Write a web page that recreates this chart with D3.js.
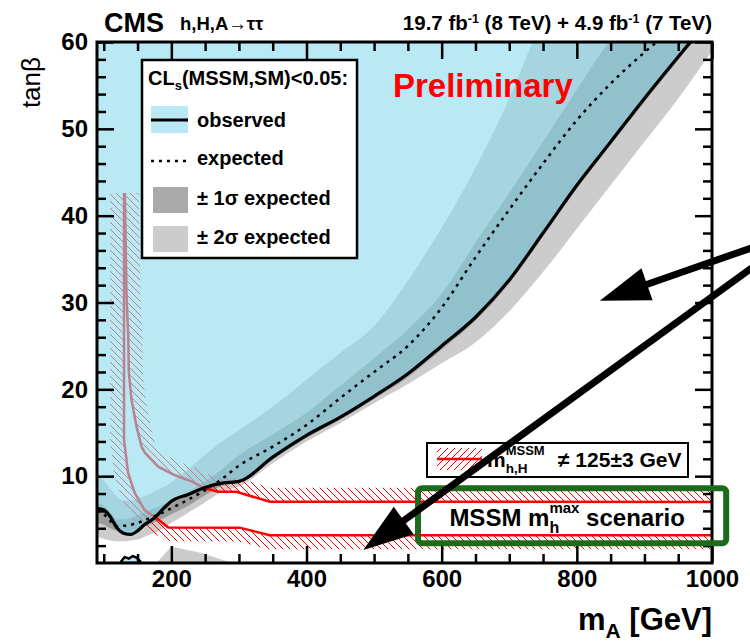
<!DOCTYPE html>
<html>
<head>
<meta charset="utf-8">
<script src="https://cdn.jsdelivr.net/npm/d3@7"></script>
<style>
  body { margin: 0; background: #fff; }
  svg { font-family: "Liberation Sans", Arial, sans-serif; font-weight: bold; }
</style>
</head>
<body>
<svg id="chart" width="750" height="641"></svg>
<script>
// m_A grid (GeV) and the tan(beta) limits
const massA   = [90, 100, 110, 120, 130, 140, 150, 160, 175, 190, 200, 225, 250, 275, 300, 350, 400, 450, 500, 550, 600, 650, 700, 750, 800, 850, 900, 950, 1000];
const obsTanb = [6.3, 6.1, 5.3, 4.0, 3.4, 3.3, 3.7, 4.4, 5.2, 6.4, 7.1, 7.9, 8.7, 9.2, 9.4, 12.2, 14.7, 16.8, 19.2, 21.8, 25.0, 28.3, 32.6, 38.0, 43.5, 48.5, 53.5, 58.3, 63.0];
const expTanb = [6.0, 5.6, 4.8, 4.2, 4.3, 4.4, 4.6, 4.9, 5.4, 5.9, 6.3, 7.3, 8.4, 9.7, 11.2, 13.4, 15.9, 19.0, 22.0, 25.0, 29.4, 35.2, 40.7, 46.0, 51.0, 55.2, 58.8, 62.0, 65.0];
const exp1Lo  = [4.6, 4.4, 4.0, 3.7, 3.6, 3.7, 3.9, 4.2, 4.7, 5.2, 5.6, 6.6, 7.8, 8.9, 9.2, 11.9, 14.4, 16.5, 18.9, 21.4, 24.6, 27.9, 32.2, 37.6, 43.1, 48.1, 53.1, 57.9, 62.6];
const exp1Hi  = [7.0, 6.6, 5.8, 5.0, 5.0, 5.2, 5.5, 5.8, 6.3, 6.8, 7.2, 8.2, 9.4, 10.8, 12.4, 14.8, 17.3, 20.4, 23.6, 26.9, 31.0, 36.9, 42.6, 48.5, 54.5, 60.3, 64.5, 68.0, 71.0];
const exp2Lo  = [3.0, 2.8, 2.6, 2.5, 2.5, 2.6, 2.7, 3.0, 3.5, 4.1, 4.6, 5.8, 7.0, 8.2, 8.8, 11.5, 14.0, 16.1, 18.4, 20.6, 23.0, 25.4, 29.0, 33.5, 38.5, 43.5, 48.5, 53.5, 59.0];
const exp2Hi  = [10.4, 9.5, 8.5, 7.6, 7.2, 7.2, 7.4, 7.7, 8.2, 8.8, 9.3, 10.8, 12.5, 14.0, 15.3, 18.0, 21.1, 24.2, 27.3, 32.5, 38.6, 45.5, 53.5, 63.0, 72.0, 80.0, 88.0, 95.0, 100.0];

// small extra pieces near the x axis (2 sigma band and observed exclusion)
const island2Mass = [178, 200, 245, 290];
const island2Tanb = [0, 1.9, 1.15, 0];
const islandObsMass = [126, 131, 137, 143, 149, 154];
const islandObsTanb = [0.2, 0.7, 0.5, 0.8, 0.6, 0.2];

// m_h contours (122 and 128 GeV)
const mh122Mass = [130, 130, 136, 145.6, 160.4, 180.7, 195.5, 301, 345.6, 1000];
const mh122Tanb = [42.6, 14.2, 10.4, 8.1, 6.1, 5.0, 4.1, 4.07, 3.2, 3.2];
const mh128Mass = [131.2, 133.7, 136.2, 137.1, 141.1, 148.5, 155.9, 160.8, 180.7, 205.3, 230, 249.7, 269.6, 296, 345.6, 1000];
const mh128Tanb = [42.6, 30.7, 26.1, 21.9, 18.8, 15.7, 13.4, 12.7, 11.1, 10.1, 9.4, 8.6, 8.2, 8.2, 7.06, 7.03];

// axis ticks
const xMajor = [200, 400, 600, 800, 1000];
const xMinor = d3.range(100, 1000, 50).filter(v => v % 200 !== 0);
const yMajor = [10, 20, 30, 40, 50, 60];
const yMinor = d3.range(2, 60, 2).filter(v => v % 10 !== 0);

// annotations (data coordinates)
const arrowTail = [[1059, 36.3], [1059, 34.0]];
const arrowTip  = [[834, 30.2], [484, 1.5]];
const scenarioBox = [[565, 8.6], [1021, 2.27]];

const svg = d3.select("#chart");
const x = d3.scaleLinear().domain([90, 1000]).range([97, 712]);
const y = d3.scaleLinear().domain([0, 60]).range([563, 42]);

const defs = svg.append("defs");
defs.append("clipPath").attr("id", "plotClip")
  .append("rect").attr("x", 97).attr("y", 42).attr("width", 615).attr("height", 521);

const hb = defs.append("pattern").attr("id", "hatchBack")
  .attr("patternUnits", "userSpaceOnUse").attr("width", 7).attr("height", 7);
hb.append("path").attr("d", "M0,0 L7,7 M-1,6 L1,8 M6,-1 L8,1")
  .attr("stroke", "#ff0000").attr("stroke-width", 1);
const hf = defs.append("pattern").attr("id", "hatchFwd")
  .attr("patternUnits", "userSpaceOnUse").attr("width", 7).attr("height", 7);
hf.append("path").attr("d", "M0,7 L7,0 M-1,1 L1,-1 M6,8 L8,6")
  .attr("stroke", "#ff0000").attr("stroke-width", 1);

const plot = svg.append("g").attr("clip-path", "url(#plotClip)");

const band = (lo, hi) => d3.area()
  .x((d, i) => x(massA[i]))
  .y0((d, i) => y(lo[i]))
  .y1((d, i) => y(hi[i]))
  .curve(d3.curveMonotoneX);

// +-2 sigma and +-1 sigma
plot.append("path").datum(massA).attr("d", band(exp2Lo, exp2Hi)).attr("fill", "#cccccc");
plot.append("path").datum(island2Mass)
  .attr("d", d3.area().x((d, i) => x(island2Mass[i])).y0(y(0)).y1((d, i) => y(island2Tanb[i])))
  .attr("fill", "#cccccc");
plot.append("path").datum(massA).attr("d", band(exp1Lo, exp1Hi)).attr("fill", "#9c9c9c");

// m_h contours with hatching on the excluded side
function hatchedContour(mass, tanb, side) {
  const pts = mass.map((m, i) => [x(m), y(tanb[i])]);
  const w = 14;
  const off = pts.map((p, i) => {
    const a = pts[Math.max(i - 1, 0)], b = pts[Math.min(i + 1, pts.length - 1)];
    let dx = b[0] - a[0], dy = b[1] - a[1];
    const L = Math.hypot(dx, dy);
    dx /= L; dy /= L;
    return [p[0] - side * dy * w, p[1] + side * dx * w];
  });
  const poly = pts.concat(off.reverse());
  plot.append("path").attr("d", "M" + poly.join("L") + "Z").attr("fill", "url(#hatchBack)");
  plot.append("path").attr("d", d3.line()(pts))
    .attr("fill", "none").attr("stroke", "#ff0000").attr("stroke-width", 2.5);
}
hatchedContour(mh122Mass, mh122Tanb, 1);
hatchedContour(mh128Mass, mh128Tanb, -1);

// observed exclusion
plot.append("path").datum(massA)
  .attr("d", d3.area().x((d, i) => x(massA[i])).y0((d, i) => y(obsTanb[i])).y1(y(70)).curve(d3.curveMonotoneX))
  .attr("fill", "#89daee").attr("fill-opacity", 0.6);
plot.append("path").datum(islandObsMass)
  .attr("d", d3.area().x((d, i) => x(islandObsMass[i])).y0(y(0)).y1((d, i) => y(islandObsTanb[i])))
  .attr("fill", "#89daee").attr("fill-opacity", 0.6).attr("stroke", "#000").attr("stroke-width", 2.5);

const line = vals => d3.line().x((d, i) => x(massA[i])).y((d, i) => y(vals[i])).curve(d3.curveMonotoneX);
plot.append("path").datum(massA).attr("d", line(expTanb))
  .attr("fill", "none").attr("stroke", "#000").attr("stroke-width", 2.5).attr("stroke-dasharray", "3,5");
plot.append("path").datum(massA).attr("d", line(obsTanb))
  .attr("fill", "none").attr("stroke", "#000").attr("stroke-width", 3.2);

// axes, ROOT style ticks on all sides
function styleAxis(g) {
  g.select(".domain").remove();
  g.selectAll(".tick line").attr("stroke", "#000").attr("stroke-width", 2.5);
  g.selectAll("text").attr("fill", "#000").attr("font-size", 24).attr("font-weight", "bold")
    .attr("font-family", "Liberation Sans, Arial, sans-serif");
}
svg.append("g").attr("transform", "translate(0,563)")
  .call(d3.axisBottom(x).tickValues(xMajor).tickSize(-17).tickPadding(7).tickFormat(d3.format("d"))).call(styleAxis);
svg.append("g").attr("transform", "translate(0,563)")
  .call(d3.axisBottom(x).tickValues(xMinor).tickSize(-9).tickFormat("")).call(styleAxis);
svg.append("g").attr("transform", "translate(0,42)")
  .call(d3.axisTop(x).tickValues(xMajor).tickSize(-17).tickFormat("")).call(styleAxis);
svg.append("g").attr("transform", "translate(0,42)")
  .call(d3.axisTop(x).tickValues(xMinor).tickSize(-9).tickFormat("")).call(styleAxis);
svg.append("g").attr("transform", "translate(97,0)")
  .call(d3.axisLeft(y).tickValues(yMajor).tickSize(-17).tickPadding(9)).call(styleAxis);
svg.append("g").attr("transform", "translate(97,0)")
  .call(d3.axisLeft(y).tickValues(yMinor).tickSize(-9).tickFormat("")).call(styleAxis);
svg.append("g").attr("transform", "translate(712,0)")
  .call(d3.axisRight(y).tickValues(yMajor).tickSize(-17).tickFormat("")).call(styleAxis);
svg.append("g").attr("transform", "translate(712,0)")
  .call(d3.axisRight(y).tickValues(yMinor).tickSize(-9).tickFormat("")).call(styleAxis);

svg.append("rect").attr("x", 97).attr("y", 42).attr("width", 615).attr("height", 521)
  .attr("fill", "none").attr("stroke", "#000").attr("stroke-width", 3);

// axis titles
const xt = svg.append("text").attr("x", 712).attr("y", 630).attr("text-anchor", "end").attr("font-size", 31);
xt.append("tspan").text("m");
xt.append("tspan").attr("dy", 8).attr("font-size", 21).text("A");
xt.append("tspan").attr("dy", -8).text(" [GeV]");
svg.append("text").attr("transform", "translate(40,57) rotate(-90)").attr("text-anchor", "end")
  .attr("font-size", 26).attr("font-weight", "normal").text("tanβ");

// header
svg.append("text").attr("x", 104).attr("y", 32).attr("font-size", 27).text("CMS");
svg.append("text").attr("x", 180).attr("y", 30).attr("font-size", 18.5).text("h,H,A→ττ");
const lumi = svg.append("text").attr("x", 712).attr("y", 30).attr("text-anchor", "end").attr("font-size", 20.5);
lumi.append("tspan").text("19.7 fb");
lumi.append("tspan").attr("dy", -7).attr("font-size", 12.5).text("-1");
lumi.append("tspan").attr("dy", 7).text(" (8 TeV) + 4.9 fb");
lumi.append("tspan").attr("dy", -7).attr("font-size", 12.5).text("-1");
lumi.append("tspan").attr("dy", 7).text(" (7 TeV)");

svg.append("text").attr("x", 393).attr("y", 97).attr("font-size", 33).attr("fill", "#ff0000").text("Preliminary");

// main legend
const lg = svg.append("g");
lg.append("rect").attr("x", 142).attr("y", 60).attr("width", 215).attr("height", 198)
  .attr("fill", "#fff").attr("stroke", "#000").attr("stroke-width", 2.5);
const lt = lg.append("text").attr("x", 148).attr("y", 85).attr("font-size", 20);
lt.append("tspan").text("CL");
lt.append("tspan").attr("dy", 5).attr("font-size", 13).text("s");
lt.append("tspan").attr("dy", -5).text("(MSSM,SM)<0.05:");
lg.append("rect").attr("x", 151).attr("y", 106).attr("width", 37).attr("height", 27)
  .attr("fill", "#89daee").attr("fill-opacity", 0.6);
lg.append("line").attr("x1", 151).attr("x2", 188).attr("y1", 120).attr("y2", 120)
  .attr("stroke", "#000").attr("stroke-width", 3.2);
lg.append("line").attr("x1", 151).attr("x2", 188).attr("y1", 161).attr("y2", 161)
  .attr("stroke", "#000").attr("stroke-width", 2.5).attr("stroke-dasharray", "3,5");
lg.append("rect").attr("x", 153).attr("y", 187).attr("width", 35).attr("height", 26).attr("fill", "#aaaaaa");
lg.append("rect").attr("x", 153).attr("y", 226).attr("width", 35).attr("height", 26).attr("fill", "#cccccc");
const entries = [["observed", 127], ["expected", 165], ["± 1σ expected", 205], ["± 2σ expected", 244]];
lg.selectAll("text.entry").data(entries).enter().append("text").attr("class", "entry")
  .attr("x", 197).attr("y", d => d[1]).attr("font-size", 20).text(d => d[0]);

// m_h legend
const mg = svg.append("g");
mg.append("rect").attr("x", 427).attr("y", 443).attr("width", 261).attr("height", 34)
  .attr("fill", "#fff").attr("stroke", "#000").attr("stroke-width", 2);
mg.append("rect").attr("x", 437).attr("y", 448).attr("width", 45).attr("height", 22).attr("fill", "url(#hatchFwd)");
mg.append("line").attr("x1", 437).attr("x2", 482).attr("y1", 459).attr("y2", 459)
  .attr("stroke", "#ff0000").attr("stroke-width", 2.5);
const mt = mg.append("text").attr("x", 487).attr("y", 467).attr("font-size", 21);
mt.append("tspan").text("m");
const mSub = mt.append("tspan").attr("dy", 6).attr("font-size", 13.5).text("h,H");
const mSup = mt.append("tspan").attr("dy", -18).attr("font-size", 13).text("MSSM");
mSup.attr("dx", -mSub.node().getComputedTextLength());
mg.append("text").attr("x", 558).attr("y", 467).attr("font-size", 21).text("≠ 125±3 GeV");

// scenario box
const [b0, b1] = scenarioBox;
svg.append("rect").attr("x", x(b0[0])).attr("y", y(b0[1]))
  .attr("width", x(b1[0]) - x(b0[0])).attr("height", y(b1[1]) - y(b0[1])).attr("rx", 4)
  .attr("fill", "none").attr("stroke", "#1c6b1c").attr("stroke-width", 6);
const st = svg.append("text").attr("x", (x(b0[0]) + x(b1[0])) / 2 - 5).attr("y", 526)
  .attr("text-anchor", "middle").attr("font-size", 24);
st.append("tspan").text("MSSM m");
const sSub = st.append("tspan").attr("dy", 7).attr("font-size", 16).text("h");
const sSup = st.append("tspan").attr("dy", -20).attr("font-size", 15).text("max");
sSup.attr("dx", -sSub.node().getComputedTextLength());
st.append("tspan").attr("dy", 13).text(" scenario");

// arrows
arrowTail.forEach((t, i) => {
  const x0 = x(t[0]), y0 = y(t[1]);
  const x1 = x(arrowTip[i][0]), y1 = y(arrowTip[i][1]);
  const L = Math.hypot(x1 - x0, y1 - y0), ux = (x1 - x0) / L, uy = (y1 - y0) / L;
  const hl = 50, hw = 17;
  const bx = x1 - ux * hl, by = y1 - uy * hl;
  svg.append("line").attr("x1", x0).attr("y1", y0).attr("x2", bx + ux * 5).attr("y2", by + uy * 5)
    .attr("stroke", "#000").attr("stroke-width", 7);
  svg.append("path")
    .attr("d", `M${x1},${y1}L${bx - uy * hw},${by + ux * hw}L${bx + uy * hw},${by - ux * hw}Z`)
    .attr("fill", "#000");
});
</script>
</body>
</html>
